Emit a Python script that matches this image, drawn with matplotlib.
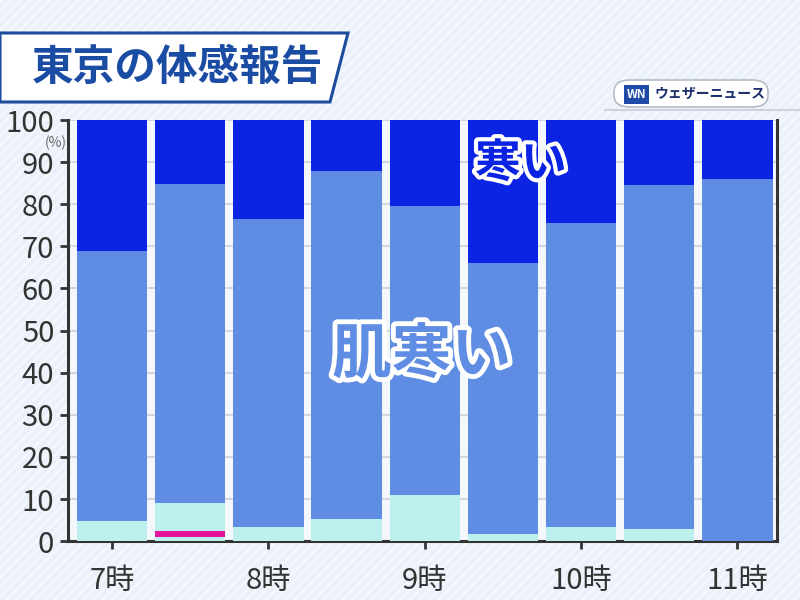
import numpy as np
import matplotlib
matplotlib.use("Agg")
import matplotlib.pyplot as plt
import matplotlib.patheffects as pe
from matplotlib.patches import Polygon, FancyBboxPatch, Rectangle
from matplotlib.lines import Line2D

plt.rcParams['font.family'] = ['Noto Sans CJK JP', 'DejaVu Sans']

# data (percent of reports per half hour)
hours = ['7時', '', '8時', '', '9時', '', '10時', '', '11時']
ok_low = [0, 1.0, 0, 0, 0, 0, 0, 0, 0]          # light segment under the pink one
hot = [0, 1.4, 0, 0, 0, 0, 0, 0, 0]
ok = [4.8, 6.6, 3.4, 5.3, 10.9, 1.8, 3.4, 3.0, 0]
chilly = [64.0, 75.8, 73.0, 82.7, 68.8, 64.3, 72.2, 81.5, 85.9]
cold = [31.2, 15.2, 23.6, 12.0, 20.3, 33.9, 24.4, 15.5, 14.1]
yticks = list(range(0, 101, 10))

c_ok = '#bdf0ec'
c_hot = '#e3139b'
c_chilly = '#5f8de4'
c_cold = '#0b23e2'

fig = plt.figure(figsize=(8, 6), dpi=100)
fig.patch.set_facecolor('#eaf1fa')

# faint diagonal stripes in the background
for k in np.arange(-1.0, 2.0, 0.012):
    fig.add_artist(Line2D([k, k + 0.75], [0, 1], transform=fig.transFigure,
                          color='#f4f8fd', lw=1.6, zorder=-10))

ax = fig.add_axes([0.085, 0.098, 0.886, 0.702])
ax.set_facecolor('#f4f8fd')

x = np.arange(len(hours))
w = 0.9
bottom = np.zeros(len(x))
for vals, col in [(ok_low, c_ok), (hot, c_hot), (ok, c_ok), (chilly, c_chilly), (cold, c_cold)]:
    ax.bar(x, vals, w, bottom=bottom, color=col, zorder=3)
    bottom = bottom + np.array(vals)

ax.set_xlim(-0.565, 8.505)
ax.set_ylim(0, 100)
ax.set_yticks(yticks)
ax.set_yticklabels([str(v) for v in yticks], fontsize=21, color='#333333')
ax.set_xticks(x[::2])
ax.set_xticklabels(hours[::2], fontsize=21, color='#333333')
ax.tick_params(axis='both', direction='out', length=6, width=2, color='#333333', pad=4)
ax.tick_params(axis='x', pad=12)
ax.yaxis.grid(True, color='#d4d8de', lw=1.5, zorder=0)
ax.set_axisbelow(True)
for s in ['left', 'bottom', 'right']:
    ax.spines[s].set_color('#333333')
    ax.spines[s].set_linewidth(2.2)
ax.spines['top'].set_visible(False)

fig.text(56 / 800, 1 - 143 / 600, '(%)', fontsize=10, color='#666666', ha='center', va='center')

# labels inside the chart
ax.text(3.96, 44, '肌寒い', fontsize=43, fontweight='bold', color=c_chilly, ha='center', va='center',
        zorder=5, path_effects=[pe.withStroke(linewidth=7, foreground='white')])
ax.text(5.23, 89.5, '寒い', fontsize=33, fontweight='bold', color=c_cold, ha='center', va='center',
        zorder=5, path_effects=[pe.withStroke(linewidth=6, foreground='white')])

# title box
box = Polygon([[0, 1 - 33 / 600], [348 / 800, 1 - 33 / 600], [330 / 800, 1 - 102 / 600], [0, 1 - 102 / 600]],
              closed=True, transform=fig.transFigure, facecolor='white', edgecolor='#1d4b9e', lw=2.2)
fig.add_artist(box)
fig.text(178 / 800, 1 - 68 / 600, '東京の体感報告', fontsize=30, fontweight='bold', color='#1b4ca3',
         ha='center', va='center')

# logo
fig.add_artist(Line2D([605 / 800, 1], [1 - 110 / 600, 1 - 110 / 600], transform=fig.transFigure,
                      color='#c8ccd2', lw=1.2))
pill = FancyBboxPatch((614 / 800, 1 - 107 / 600), 154 / 800, 27 / 600,
                      boxstyle='round,pad=0,rounding_size=0.02', transform=fig.transFigure,
                      facecolor='white', edgecolor='#b5bcc6', lw=1.2)
fig.add_artist(pill)
fig.add_artist(Rectangle((624 / 800, 1 - 104 / 600), 25 / 800, 19 / 600, transform=fig.transFigure,
                         facecolor='#1f4aa8', edgecolor='none'))
fig.text(636.5 / 800, 1 - 94.5 / 600, 'WN', fontsize=8.5, fontweight='bold', fontstyle='italic',
         color='white', ha='center', va='center')
fig.text(710 / 800, 1 - 94 / 600, 'ウェザーニュース', fontsize=10, fontweight='bold', color='#1d2f6b',
         ha='center', va='center')

fig.savefig('out.png', dpi=100, facecolor=fig.get_facecolor())
